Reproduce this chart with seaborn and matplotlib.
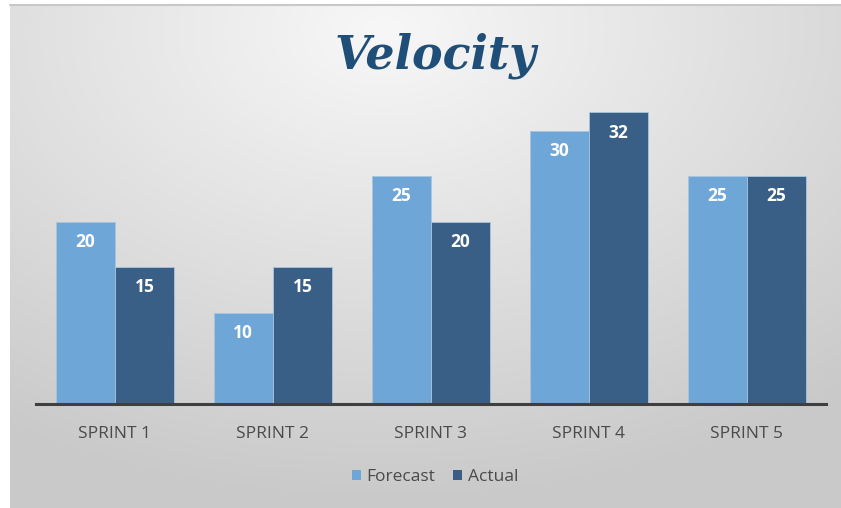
import numpy as np
import pandas as pd
import matplotlib
matplotlib.use("Agg")
import matplotlib.pyplot as plt
import seaborn as sns
from matplotlib.patches import Patch

sprints = ["SPRINT 1", "SPRINT 2", "SPRINT 3", "SPRINT 4", "SPRINT 5"]
forecast = [20, 10, 25, 30, 25]
actual = [15, 15, 20, 32, 25]
series_names = ["Forecast", "Actual"]
colors = ["#6fa6d8", "#3a5f86"]

df = pd.DataFrame({
    "sprint": sprints * 2,
    "value": forecast + actual,
    "series": [series_names[0]] * len(sprints) + [series_names[1]] * len(sprints),
})

sns.set_theme(style="white")
plt.rcParams["font.family"] = ["Open Sans", "DejaVu Sans"]

W, H = 841, 508
fig = plt.figure(figsize=(W / 100, H / 100), dpi=100)
fig.patch.set_facecolor("white")

# gradient background
bg = fig.add_axes([10 / W, 0, 831 / W, 503 / H], zorder=0)
yy, xx = np.mgrid[0:1:300j, 0:1:500j]
r = np.sqrt(((xx - 0.45) / 1.0) ** 2 + ((yy - 0.05) / 1.1) ** 2)
g = 0.97 - 0.18 * np.clip(r / 0.85, 0, 1)
bg.imshow(np.dstack([g, g, g]), aspect="auto", extent=[0, 1, 1, 0])
bg.set_xlim(0, 1)
bg.set_ylim(1, 0)
bg.axis("off")
fig.add_artist(plt.Line2D([10 / W, 1], [503 / H, 503 / H], color="#c8c8c8", lw=1.5, transform=fig.transFigure))

ax = fig.add_axes([36 / W, 104 / H, 790 / W, 319 / H], zorder=1)
ax.patch.set_alpha(0)
sns.barplot(data=df, x="sprint", y="value", hue="series", palette=colors, saturation=1,
            width=0.75, ax=ax, edgecolor="#a9c4dd", linewidth=0.6, legend=False)
ax.set_ylim(0, 35)
ax.set_xlim(-0.5, 4.5)
ax.set_xlabel("")
ax.set_ylabel("")
ax.set_yticks([])
for s in ["top", "right", "left"]:
    ax.spines[s].set_visible(False)
ax.spines["bottom"].set_color("#3f3f3f")
ax.spines["bottom"].set_linewidth(2.2)
ax.tick_params(axis="x", length=0, pad=16, labelsize=12.5, labelcolor="#4a4a4a")

for cont in ax.containers:
    ax.bar_label(cont, padding=-21, color="white", fontweight="bold", fontsize=12.5)

fig.text(435 / W, 1 - 56 / H, "Velocity", ha="center", va="center",
         fontsize=33, color="#1f4e79", fontstyle="italic", fontweight="bold",
         family=["DejaVu Serif"])

handles = [Patch(facecolor=c, edgecolor="none") for c in colors]
fig.legend(handles, series_names, loc="center", bbox_to_anchor=(435 / W, 1 - 477 / H),
           ncol=2, frameon=False, fontsize=12.5, handlelength=0.55, handleheight=0.55,
           handletextpad=0.3, columnspacing=1.0, labelcolor="#4a4a4a")

fig.savefig("out.png", dpi=100)
